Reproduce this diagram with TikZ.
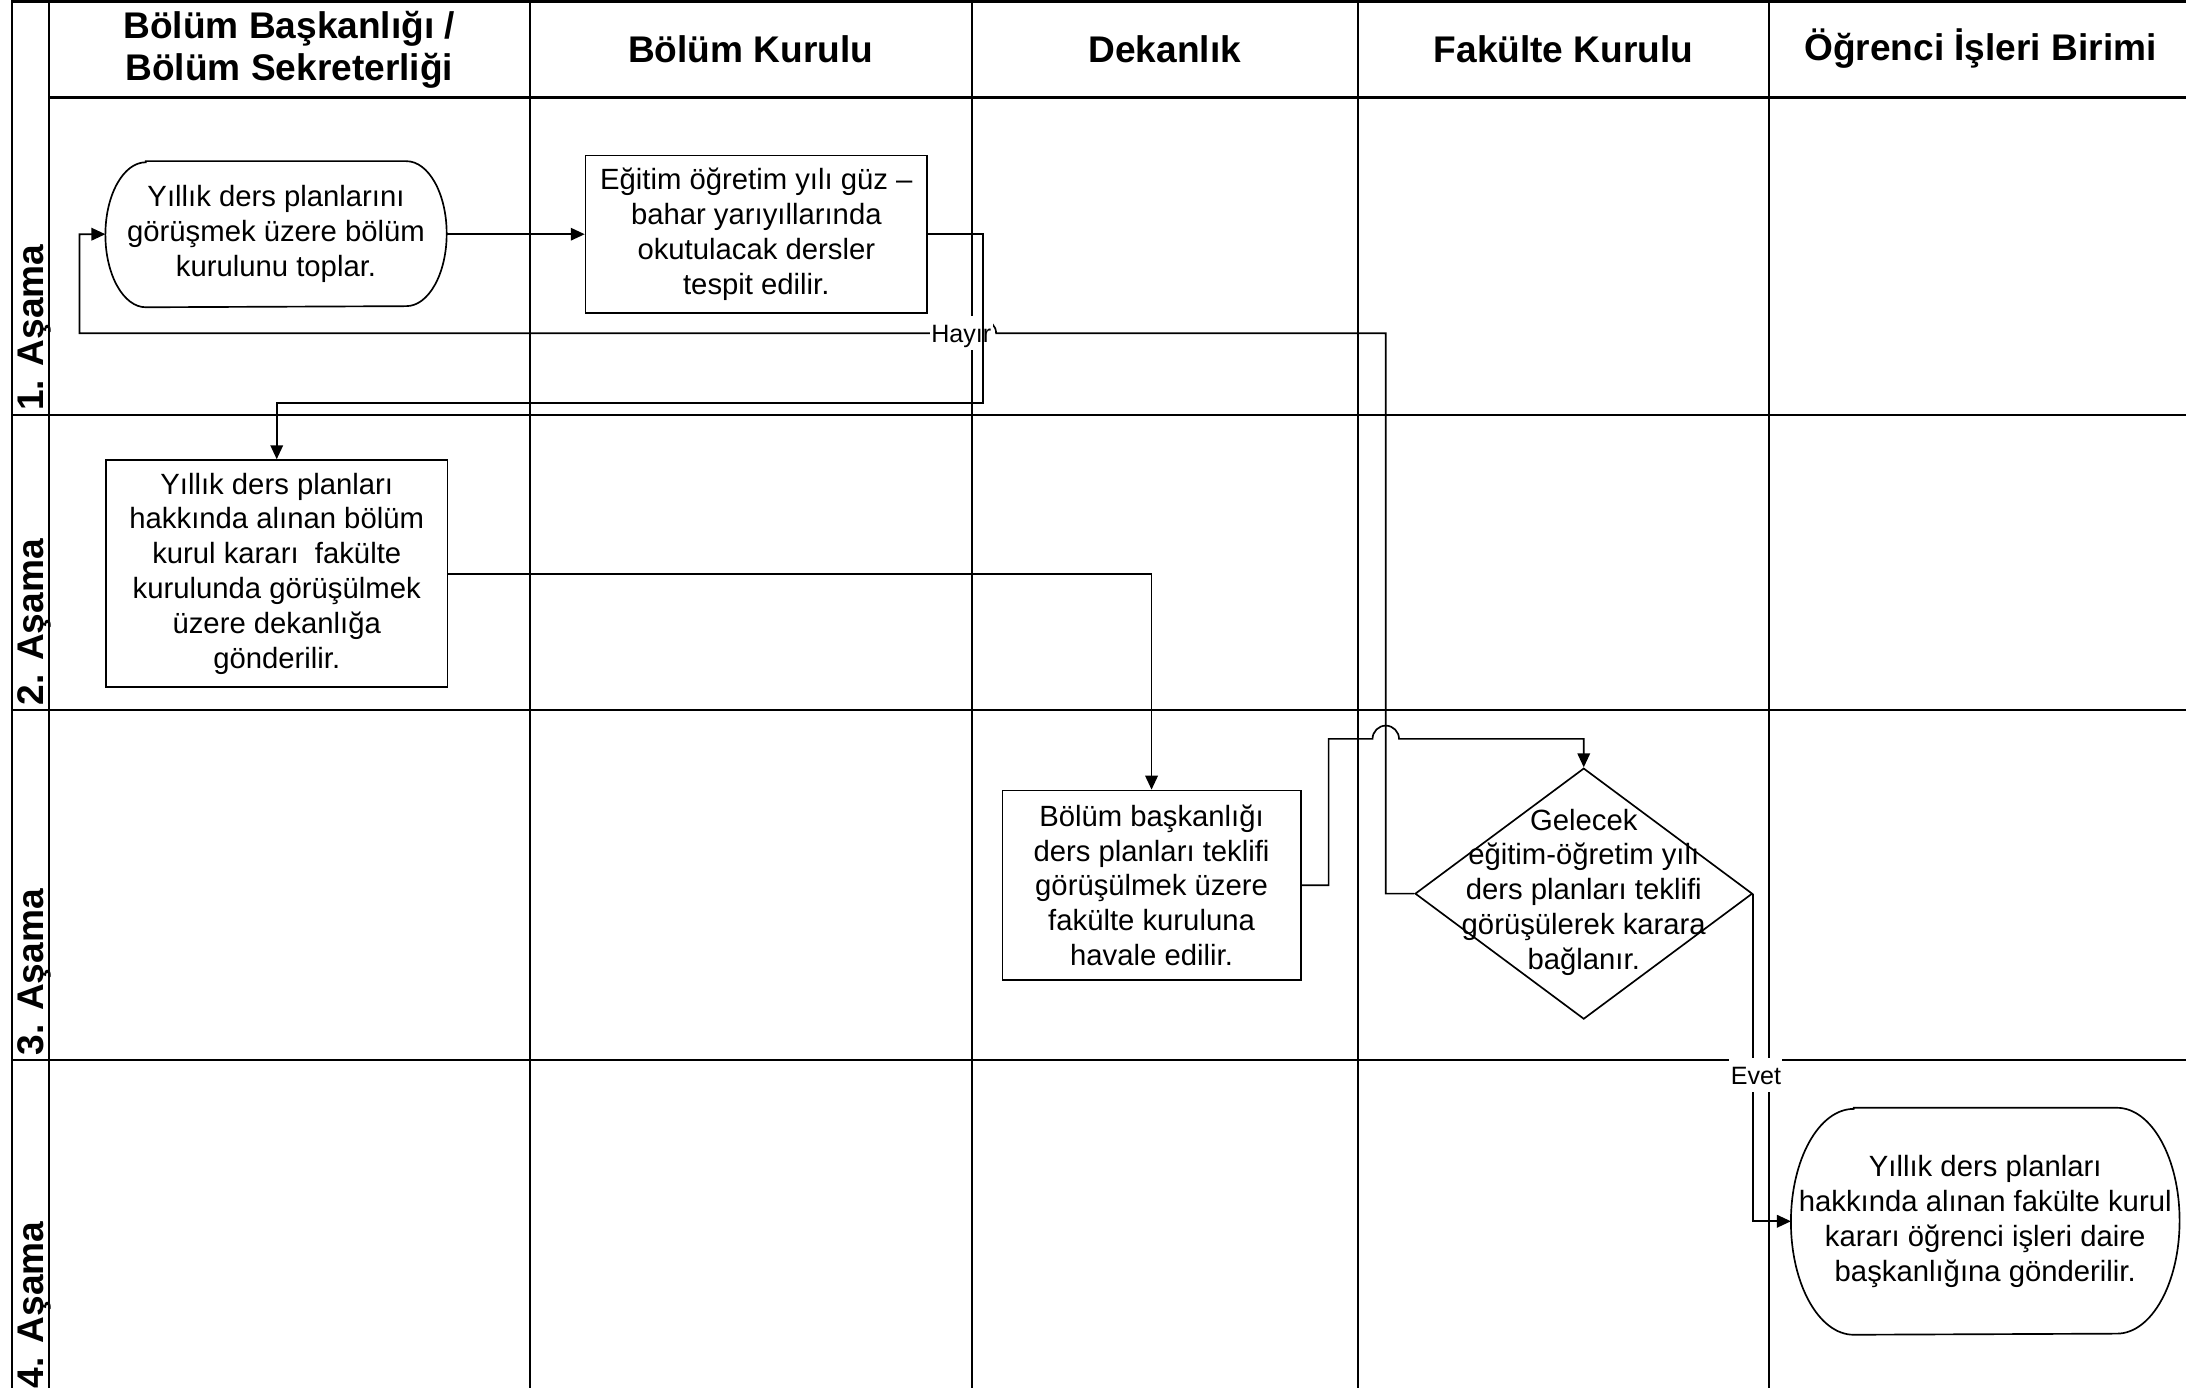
\documentclass[tikz,border=0pt]{standalone}
\usepackage{fontspec}
\setmainfont{Liberation Sans}
\usetikzlibrary{arrows.meta,shapes.geometric}

\newcommand\bodyfont{\fontsize{10.5}{12.5}\selectfont}
\newcommand\headfont{\fontsize{13.3}{15}\selectfont\bfseries}
\newcommand\answerfont{\fontsize{9}{10}\selectfont}

% terminator outline with half-elliptic ends around a (frameless) node
% #1 node name, #2 horizontal radius of the ends, #3 vertical radius
\newcommand\termoutline[3]{%
  \draw[line width=0.6pt,fill=white]
    ([xshift=#2]#1.north west) -- ([xshift=-#2]#1.north east)
    arc[start angle=90,end angle=-90,x radius=#2,y radius=#3]
    -- ([xshift=#2]#1.south west)
    arc[start angle=270,end angle=90,x radius=#2,y radius=#3] -- cycle;}

\begin{document}
\begin{tikzpicture}[x=0.5pt,y=-0.5pt,
  grid/.style={line width=0.8pt},
  conn/.style={line width=0.6pt,-{Triangle[length=5pt,width=4.5pt]}},
  procbox/.style={draw,line width=0.6pt,fill=white,inner sep=0pt,align=center,font=\bodyfont},
  term/.style={rectangle,draw=none,inner sep=0pt},
  decision/.style={diamond,draw,line width=0.6pt,fill=white,inner sep=0pt},
  txt/.style={inner sep=0pt,align=center,font=\bodyfont},
  lanehead/.style={font=\headfont,align=center,inner sep=0pt},
  stage/.style={font=\headfont,rotate=90,anchor=base west,inner sep=0pt},
  answer/.style={fill=white,font=\answerfont,inner xsep=0.5pt,inner ysep=1.5pt,text height=8pt,text depth=1pt,anchor=base}]

\useasboundingbox (0,0) rectangle (1568,995);
\clip (0,0) rectangle (1568,995);

% swimlane grid
\foreach \x in {8.7,35.3,380,697,974,1269}
  \draw[grid] (\x,0) -- (\x,1005);
\draw[grid] (8.7,1) -- (1575,1);
\draw[grid] (35.3,70) -- (1575,70);
\foreach \y in {297.7,509.3,760.4}
  \draw[grid] (8.7,\y) -- (1575,\y);

% lane headers
\node[lanehead] (h1) at (207.5,35.5) {Bölüm Başkanlığı /\\Bölüm Sekreterliği};
\node[lanehead] (h2) at (538.5,35) {Bölüm Kurulu};
\node[lanehead] (h3) at (835.5,35) {Dekanlık};
\node[lanehead] (h4) at (1121.5,35) {Fakülte Kurulu};
\node[lanehead] (h5) at (1420.5,35) {Öğrenci İşleri Birimi};

% stage labels
\node[stage] (s1) at (31,295) {1. Aşama};
\node[stage] (s2) at (31,506.5) {2. Aşama};
\node[stage] (s3) at (31,757.5) {3. Aşama};
\node[stage] (s4) at (31,996) {4. Aşama};

% flow shapes
\node[term,minimum width=122pt,minimum height=52pt] (start) at (198,168) {};
\termoutline{start}{14.5pt}{26pt}
\node[txt] (startT) at (start) {Yıllık ders planlarını\\görüşmek üzere bölüm\\kurulunu toplar.};

\node[procbox,minimum width=122.5pt,minimum height=56.5pt] (box2) at (542.5,168)
  {Eğitim öğretim yılı güz –\\bahar yarıyıllarında\\okutulacak dersler\\tespit edilir.};

\node[procbox,minimum width=122.5pt,minimum height=81.5pt] (box3) at (198.5,411.5)
  {Yıllık ders planları\\hakkında alınan bölüm\\kurul kararı~ fakülte\\kurulunda görüşülmek\\üzere dekanlığa\\gönderilir.};

\node[procbox,minimum width=107pt,minimum height=68pt] (box4) at (826,635)
  {Bölüm başkanlığı\\ders planları teklifi\\görüşülmek üzere\\fakülte kuruluna\\havale edilir.};

\node[decision,minimum width=121pt,minimum height=90pt] (dec) at (1136,641) {};
\node[txt] (decT) at (1136,640) {Gelecek\\eğitim-öğretim yılı\\ders planları teklifi\\görüşülerek karara\\bağlanır.};

\node[term,minimum width=139pt,minimum height=81pt] (fin) at (1424,876) {};
\termoutline{fin}{22.5pt}{40.5pt}
\node[txt] (finT) at (fin) {Yıllık ders planları\\hakkında alınan fakülte kurul\\kararı öğrenci işleri daire\\başkanlığına gönderilir.};

% connectors
\draw[conn] (start.east) -- (box2.west);
\draw[conn] (box3.east) -| (box4.north);
\draw[conn] (box4.east) -- (953,635) |- (984.5,530)
  arc[start angle=180,end angle=0,radius=4.75pt] -| (dec.north);
\draw[conn] (dec.east) |- (fin.west);
\draw[conn] (dec.west) -- (994,641) -- (994,239) -- (714.5,239)
  arc[start angle=0,end angle=180,radius=4.75pt] -- (57,239) |- (start.west);

% answer labels
\node[answer] (evet) at (1259.5,778) {Evet};
\node[answer] (hayir) at (689.5,246) {Hayır};

\draw[conn] (box2.east) -| (705,289) -| (box3.north);

\end{tikzpicture}
\end{document}
